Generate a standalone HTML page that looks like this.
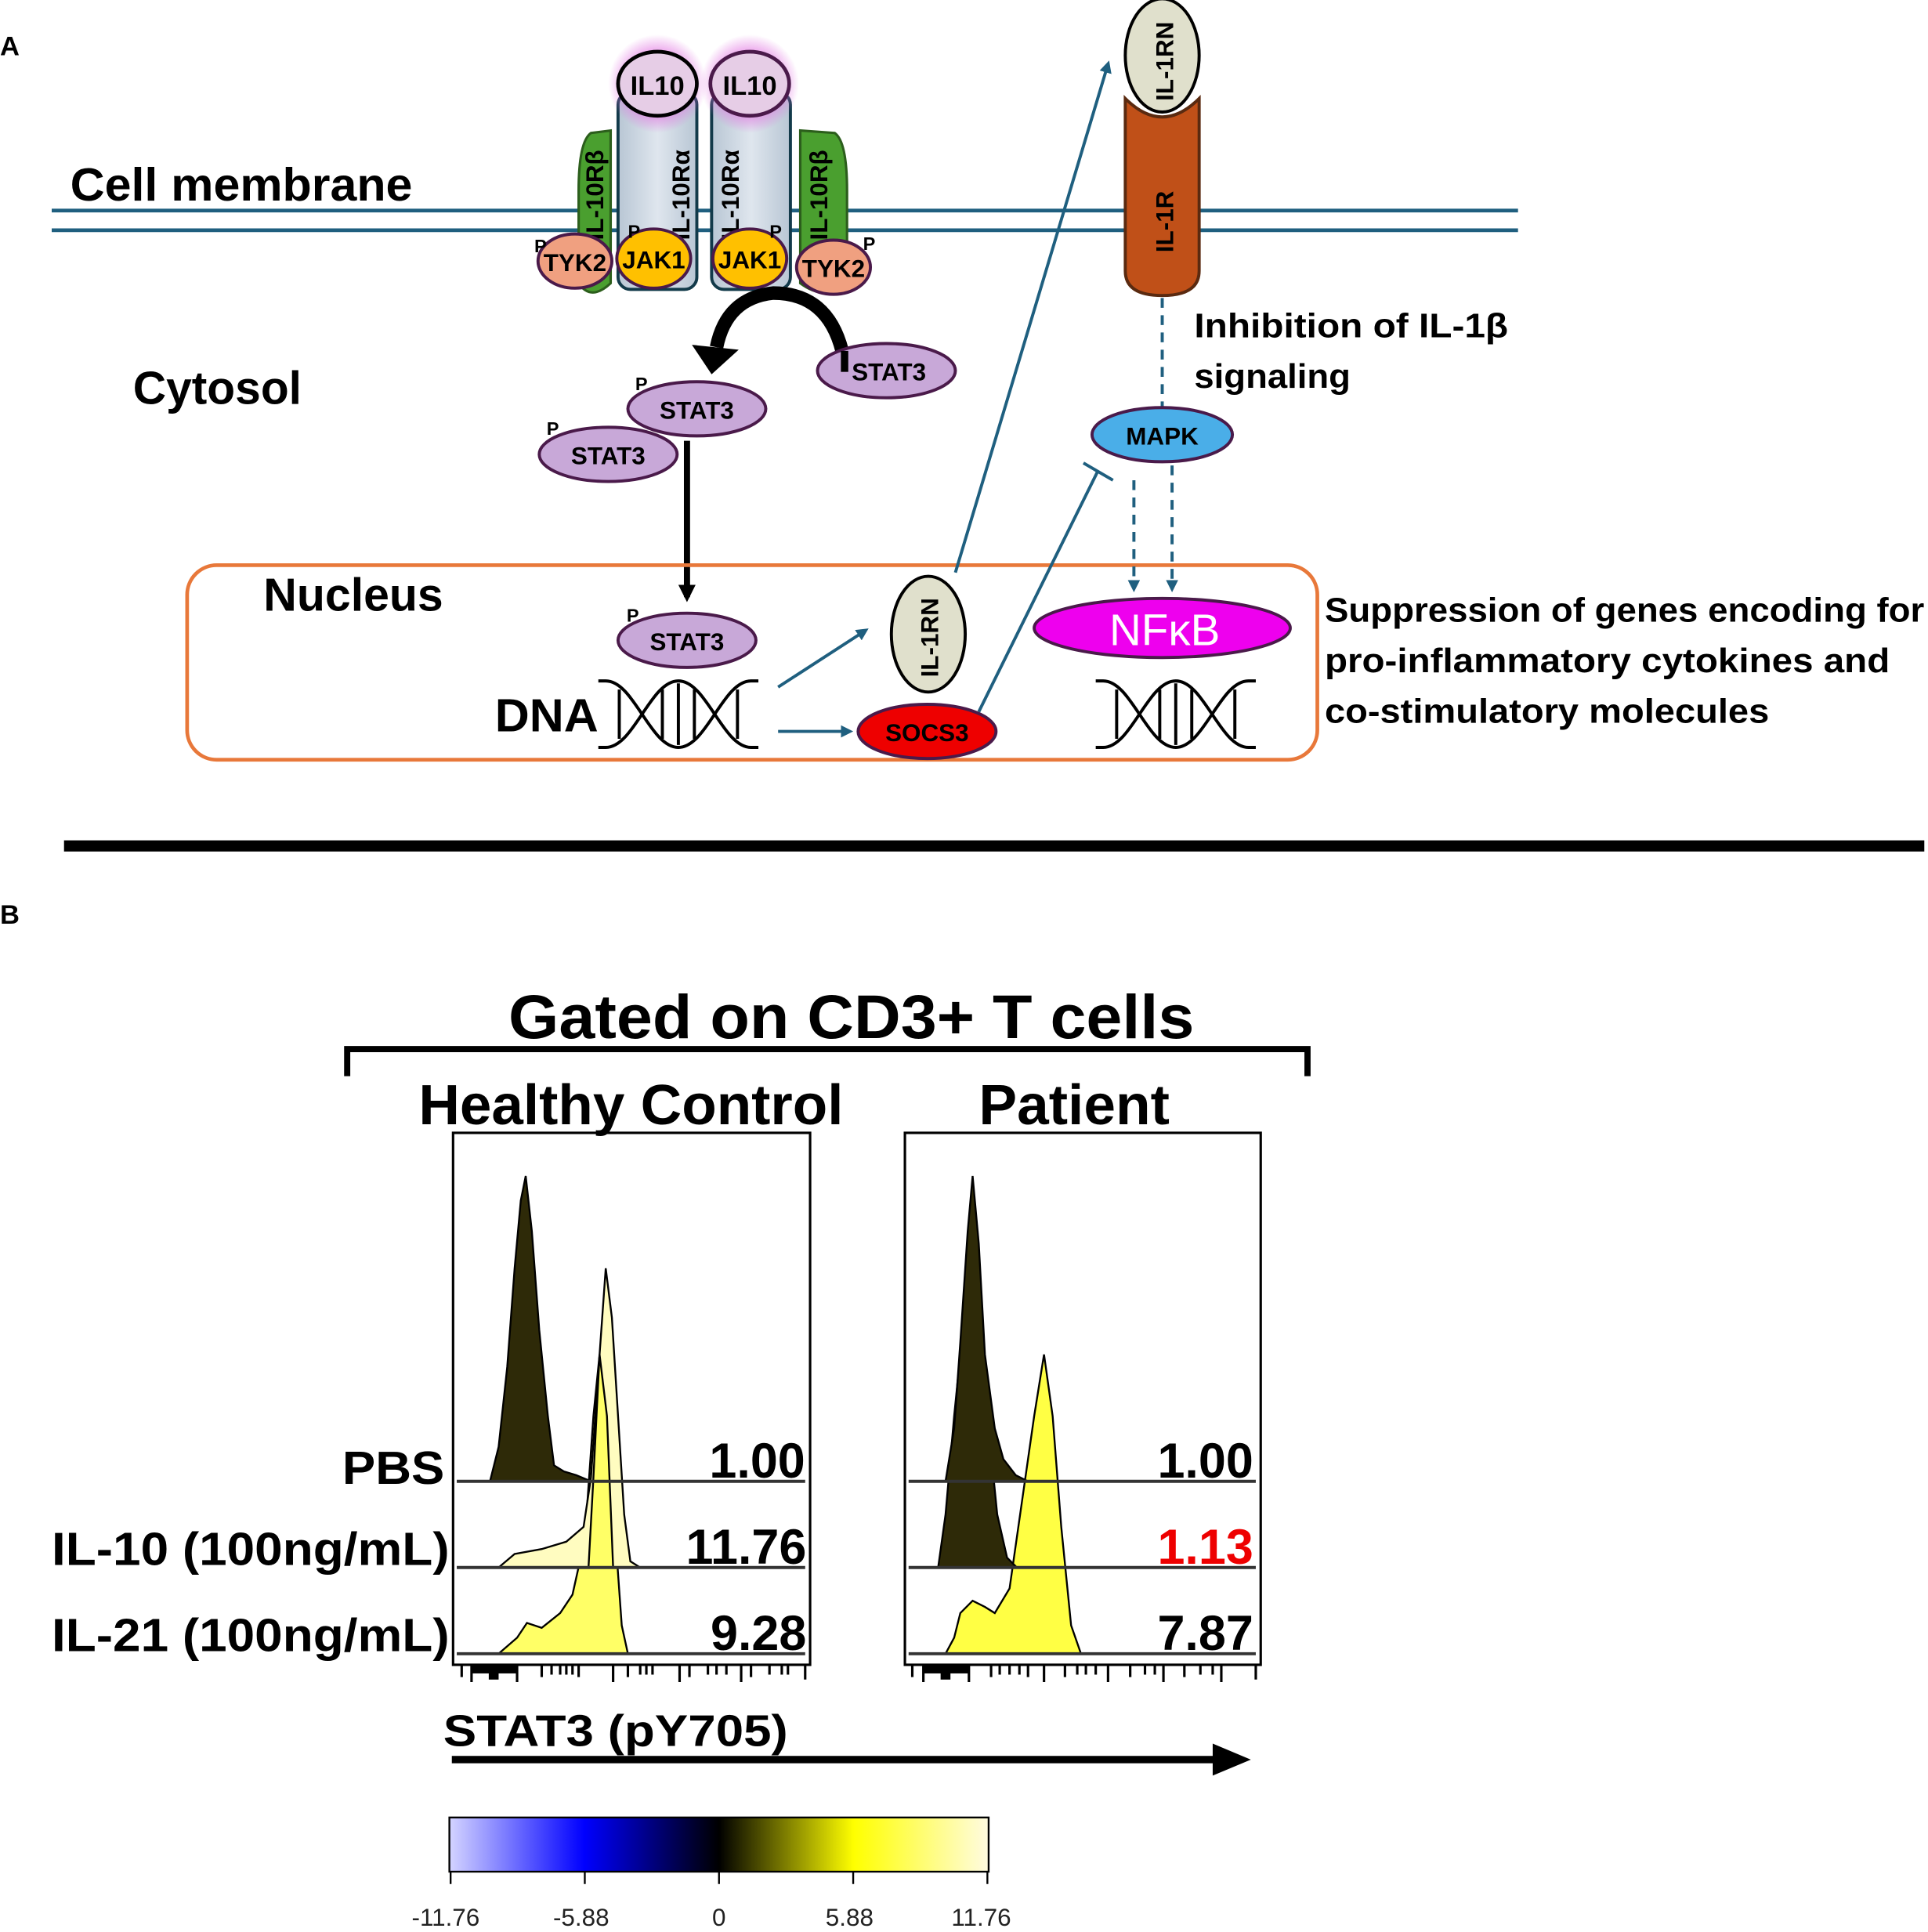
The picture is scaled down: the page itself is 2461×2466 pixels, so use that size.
<!DOCTYPE html>
<html><head><meta charset="utf-8"><style>
html,body{margin:0;padding:0;background:#fff;}
svg{display:block;}
text{font-family:"Liberation Sans",sans-serif;}
.b{font-weight:bold;}
</style></head><body>
<svg width="2461" height="2466" viewBox="0 0 1566 1569" preserveAspectRatio="none" xmlns="http://www.w3.org/2000/svg">
<defs>
<linearGradient id="cb" x1="0" x2="1" y1="0" y2="0">
<stop offset="0" stop-color="#d4d4ff"/><stop offset="0.25" stop-color="#0000ff"/><stop offset="0.5" stop-color="#000"/><stop offset="0.75" stop-color="#ffff00"/><stop offset="1" stop-color="#fffbe0"/>
</linearGradient>
<linearGradient id="rc" x1="0" x2="1"><stop offset="0" stop-color="#b8c6d4"/><stop offset="0.5" stop-color="#dfe6ee"/><stop offset="1" stop-color="#b8c6d4"/></linearGradient>
<radialGradient id="glow"><stop offset="0.6" stop-color="#e070e0" stop-opacity="0.7"/><stop offset="1" stop-color="#e070e0" stop-opacity="0"/></radialGradient>
<marker id="ab" markerWidth="10" markerHeight="10" refX="7" refY="5" orient="auto" markerUnits="userSpaceOnUse"><path d="M0,0 L10,5 L0,10 Z" fill="#1f5f7f"/></marker>
<marker id="ak" markerWidth="14" markerHeight="14" refX="10" refY="7" orient="auto" markerUnits="userSpaceOnUse"><path d="M0,0 L14,7 L0,14 Z" fill="#000"/></marker>
</defs>
<rect width="1566" height="1569" fill="#fff"/>
<text x="0" y="45" class="b" font-size="22">A</text>
<text x="0" y="750" class="b" font-size="22">B</text>

<line x1="42" y1="171" x2="1233" y2="171" stroke="#1f5f7f" stroke-width="3"/>
<line x1="42" y1="187" x2="1233" y2="187" stroke="#1f5f7f" stroke-width="3"/>
<text x="57" y="163" class="b" font-size="38" textLength="278" lengthAdjust="spacingAndGlyphs">Cell membrane</text>
<text x="108" y="328" class="b" font-size="38" textLength="137" lengthAdjust="spacingAndGlyphs">Cytosol</text>

<path d="M470,155 Q470,115 480,108 L496,106 L496,230 Q480,245 470,230 Z" fill="#4a9f2f" stroke="#2c5e1c" stroke-width="2"/>
<path d="M688,155 Q688,115 678,108 L650,106 L650,230 Q670,245 688,230 Z" fill="#4a9f2f" stroke="#2c5e1c" stroke-width="2"/>
<rect x="502" y="75" width="64" height="160" rx="10" fill="url(#rc)" stroke="#123a4a" stroke-width="2.5"/>
<rect x="578" y="75" width="64" height="160" rx="10" fill="url(#rc)" stroke="#123a4a" stroke-width="2.5"/>
<circle cx="534" cy="68" r="40" fill="url(#glow)"/><circle cx="609" cy="68" r="40" fill="url(#glow)"/>
<ellipse cx="534" cy="68" rx="32" ry="26" fill="#e6cde6" stroke="#000" stroke-width="3"/>
<ellipse cx="609" cy="68" rx="32" ry="26" fill="#e6cde6" stroke="#4a1a4a" stroke-width="3"/>
<text x="534" y="77" text-anchor="middle" class="b" font-size="22">IL10</text>
<text x="609" y="77" text-anchor="middle" class="b" font-size="22">IL10</text>
<g class="b" font-size="20">
<text transform="translate(490,195) rotate(-90)">IL-10Rβ</text>
<text transform="translate(560,195) rotate(-90)">IL-10Rα</text>
<text transform="translate(600,195) rotate(-90)">IL-10Rα</text>
<text transform="translate(672,195) rotate(-90)">IL-10Rβ</text>
</g>
<ellipse cx="467" cy="212" rx="30" ry="22" fill="#f0a080" stroke="#4a1a4a" stroke-width="2.5"/>
<ellipse cx="531" cy="210" rx="30" ry="24" fill="#ffc000" stroke="#4a1a4a" stroke-width="2.5"/>
<ellipse cx="609" cy="210" rx="30" ry="24" fill="#ffc000" stroke="#4a1a4a" stroke-width="2.5"/>
<ellipse cx="677" cy="217" rx="30" ry="22" fill="#f0a080" stroke="#4a1a4a" stroke-width="2.5"/>
<g class="b" font-size="20" text-anchor="middle">
<text x="467" y="220">TYK2</text><text x="531" y="218">JAK1</text><text x="609" y="218">JAK1</text><text x="677" y="225">TYK2</text>
</g>
<g class="b" font-size="15"><text x="434" y="205">P</text><text x="510" y="193">P</text><text x="625" y="193">P</text><text x="701" y="203">P</text></g>

<!-- curved arrow -->
<path d="M684,300 L684,285 Q672,238 628,238 Q590,242 582,282" fill="none" stroke="#000" stroke-width="11"/>
<path d="M562,280 L600,284 L578,304 Z" fill="#000"/>
<ellipse cx="720" cy="301" rx="56" ry="22" fill="#c8a8d8" stroke="#4a1a4a" stroke-width="2.5"/>
<rect x="683" y="285" width="6" height="17" fill="#000"/>
<text x="722" y="309" text-anchor="middle" class="b" font-size="20">STAT3</text>
<ellipse cx="566" cy="332" rx="56" ry="22" fill="#c8a8d8" stroke="#4a1a4a" stroke-width="2.5"/>
<text x="566" y="340" text-anchor="middle" class="b" font-size="20">STAT3</text>
<ellipse cx="494" cy="369" rx="56" ry="22" fill="#c8a8d8" stroke="#4a1a4a" stroke-width="2.5"/>
<text x="494" y="377" text-anchor="middle" class="b" font-size="20">STAT3</text>
<g class="b" font-size="15"><text x="516" y="317">P</text><text x="444" y="353">P</text><text x="509" y="505">P</text></g>
<line x1="558" y1="358" x2="558" y2="485" stroke="#000" stroke-width="5" marker-end="url(#ak)"/>

<rect x="152" y="459" width="918" height="158" rx="24" fill="none" stroke="#e8783a" stroke-width="3"/>
<text x="214" y="496" class="b" font-size="38" textLength="146" lengthAdjust="spacingAndGlyphs">Nucleus</text>
<ellipse cx="558" cy="520" rx="56" ry="22" fill="#c8a8d8" stroke="#4a1a4a" stroke-width="2.5"/>
<text x="558" y="528" text-anchor="middle" class="b" font-size="20">STAT3</text>
<text x="402" y="594" class="b" font-size="38" textLength="84" lengthAdjust="spacingAndGlyphs">DNA</text>
<g fill="none" stroke="#000" stroke-width="2.5">
<g id="dna">
<path d="M486,553 L492,553 C515,553 528,607 551,607 C574,607 587,553 610,553 L616,553"/>
<path d="M486,607 L492,607 C515,607 528,553 551,553 C574,553 587,607 610,607 L616,607"/>
<path d="M503,560 V600 M538,560 V600 M551,555 V605 M564,560 V600 M599,560 V600"/>
</g>
<use href="#dna" x="404" y="0"/>
</g>
<line x1="632" y1="558" x2="703" y2="512" stroke="#1f5f7f" stroke-width="2.5" marker-end="url(#ab)"/>
<line x1="632" y1="594" x2="690" y2="594" stroke="#1f5f7f" stroke-width="2.5" marker-end="url(#ab)"/>
<ellipse cx="754" cy="515" rx="30" ry="47" fill="#e0e0cc" stroke="#000" stroke-width="2.5"/>
<text transform="translate(762,550) rotate(-90)" class="b" font-size="20">IL-1RN</text>
<ellipse cx="753" cy="594" rx="56" ry="22" fill="#ee0000" stroke="#4a1a4a" stroke-width="2.5"/>
<text x="753" y="602" text-anchor="middle" class="b" font-size="20">SOCS3</text>
<line x1="776" y1="465" x2="900" y2="52" stroke="#1f5f7f" stroke-width="2.5" marker-end="url(#ab)"/>
<line x1="795" y1="578" x2="892" y2="382" stroke="#1f5f7f" stroke-width="2.5"/>
<line x1="880" y1="376" x2="904" y2="390" stroke="#1f5f7f" stroke-width="2.5"/>
<ellipse cx="944" cy="510" rx="104" ry="24" fill="#ee00ee" stroke="#4a1a4a" stroke-width="2.5"/>
<text x="946" y="524" text-anchor="middle" font-size="36" fill="#fff">NFκB</text>

<path d="M914,80 L914,220 Q914,240 944,240 Q974,240 974,220 L974,80 Q944,110 914,80 Z" fill="#c05018" stroke="#5a2a10" stroke-width="2.5"/>
<text transform="translate(953,205) rotate(-90)" class="b" font-size="20">IL-1R</text>
<ellipse cx="944" cy="45" rx="30" ry="46" fill="#e0e0cc" stroke="#000" stroke-width="2.5"/>
<text transform="translate(953,82) rotate(-90)" class="b" font-size="20">IL-1RN</text>
<line x1="944" y1="242" x2="944" y2="330" stroke="#1f5f7f" stroke-width="2.5" stroke-dasharray="8,6"/>
<ellipse cx="944" cy="353" rx="57" ry="22" fill="#4aaee8" stroke="#4a1a4a" stroke-width="2.5"/>
<text x="944" y="361" text-anchor="middle" class="b" font-size="20">MAPK</text>
<line x1="921" y1="390" x2="921" y2="478" stroke="#1f5f7f" stroke-width="2.5" stroke-dasharray="8,6" marker-end="url(#ab)"/>
<line x1="952" y1="378" x2="952" y2="478" stroke="#1f5f7f" stroke-width="2.5" stroke-dasharray="8,6" marker-end="url(#ab)"/>
<text x="970" y="274" class="b" font-size="28" textLength="255" lengthAdjust="spacingAndGlyphs">Inhibition of IL-1β</text>
<text x="970" y="315" class="b" font-size="28" textLength="127" lengthAdjust="spacingAndGlyphs">signaling</text>
<text x="1076" y="505" class="b" font-size="28" textLength="487" lengthAdjust="spacingAndGlyphs">Suppression of genes encoding for</text>
<text x="1076" y="546" class="b" font-size="28" textLength="459" lengthAdjust="spacingAndGlyphs">pro-inflammatory cytokines and</text>
<text x="1076" y="587" class="b" font-size="28" textLength="361" lengthAdjust="spacingAndGlyphs">co-stimulatory molecules</text>

<line x1="52" y1="687" x2="1563" y2="687" stroke="#000" stroke-width="9"/>

<text x="413" y="843" class="b" font-size="50" textLength="557" lengthAdjust="spacingAndGlyphs">Gated on CD3+ T cells</text>
<path d="M282,874 L282,852 L1062,852 L1062,874" fill="none" stroke="#000" stroke-width="5"/>
<text x="340" y="913" class="b" font-size="46" textLength="345" lengthAdjust="spacingAndGlyphs">Healthy Control</text>
<text x="795" y="913" class="b" font-size="46" textLength="155" lengthAdjust="spacingAndGlyphs">Patient</text>
<rect x="368" y="920" width="290" height="432" fill="none" stroke="#000" stroke-width="2"/>
<rect x="735" y="920" width="289" height="432" fill="none" stroke="#000" stroke-width="2"/>
<g class="b" font-size="38">
<text x="278" y="1205" textLength="83" lengthAdjust="spacingAndGlyphs">PBS</text>
<text x="42" y="1271" textLength="323" lengthAdjust="spacingAndGlyphs">IL-10 (100ng/mL)</text>
<text x="42" y="1341" textLength="323" lengthAdjust="spacingAndGlyphs">IL-21 (100ng/mL)</text>
</g>
<g stroke="#000" stroke-width="1.5">
<path d="M405,1343 L420,1330 L428,1318 L440,1322 L455,1310 L465,1295 L475,1250 L482,1150 L487,1100 L493,1150 L500,1250 L505,1320 L510,1343 Z" fill="#ffff66"/>
<path d="M405,1273 L418,1262 L440,1258 L460,1252 L474,1240 L480,1200 L487,1100 L492,1030 L497,1070 L502,1150 L507,1230 L512,1268 L520,1273 Z" fill="#fffcc0"/>
<path d="M478,1273 L482,1200 L487,1100 L493,1150 L498,1273 Z" fill="#ffff66"/>
<path d="M398,1203 L405,1175 L412,1110 L418,1030 L423,975 L427,955 L432,1000 L438,1080 L445,1150 L450,1190 L458,1195 L468,1198 L480,1203 Z" fill="#2e2a08"/>
<path d="M768,1343 L775,1330 L780,1310 L790,1300 L800,1305 L808,1310 L820,1290 L830,1220 L840,1150 L848,1100 L855,1150 L862,1240 L870,1320 L878,1343 Z" fill="#ffff44"/>
<path d="M762,1273 L768,1230 L775,1150 L782,1080 L790,1000 L796,1060 L802,1150 L810,1230 L818,1265 L826,1273 Z" fill="#2e2a08"/>
<path d="M768,1203 L775,1160 L780,1090 L786,1000 L790,955 L795,1010 L800,1100 L808,1160 L815,1185 L825,1198 L835,1203 Z" fill="#2e2a08"/>
</g>
<g stroke="#333" stroke-width="2.5">
<line x1="371" y1="1203" x2="654" y2="1203"/><line x1="371" y1="1273" x2="654" y2="1273"/><line x1="371" y1="1343" x2="654" y2="1343"/>
<line x1="738" y1="1203" x2="1020" y2="1203"/><line x1="738" y1="1273" x2="1020" y2="1273"/><line x1="738" y1="1343" x2="1020" y2="1343"/>
</g>
<g class="b" font-size="40" text-anchor="end">
<text x="654" y="1200">1.00</text><text x="655" y="1270">11.76</text><text x="655" y="1340">9.28</text>
<text x="1018" y="1200">1.00</text><text x="1018" y="1270" fill="#ee0000">1.13</text><text x="1018" y="1340">7.87</text>
</g>
<g stroke="#000" stroke-width="2">
<path d="M375,1352 v10 M383,1352 v14 M420,1352 v14 M440,1352 v10 M448,1352 v8 M455,1352 v8 M460,1352 v8 M465,1352 v8 M470,1352 v10 M498,1352 v14 M510,1352 v10 M520,1352 v8 M525,1352 v8 M530,1352 v8 M552,1352 v14 M560,1352 v10 M575,1352 v8 M582,1352 v8 M590,1352 v8 M602,1352 v14 M610,1352 v10 M625,1352 v8 M635,1352 v8 M640,1352 v8 M654,1352 v12"/>
<path d="M741,1352 v10 M750,1352 v14 M787,1352 v14 M805,1352 v10 M812,1352 v8 M820,1352 v8 M828,1352 v8 M835,1352 v10 M848,1352 v14 M865,1352 v10 M875,1352 v8 M882,1352 v8 M890,1352 v8 M900,1352 v14 M918,1352 v10 M930,1352 v8 M938,1352 v8 M945,1352 v14 M962,1352 v10 M975,1352 v8 M985,1352 v8 M992,1352 v14 M1020,1352 v12"/>
</g>
<rect x="383" y="1352" width="37" height="7" fill="#000"/><rect x="397" y="1352" width="8" height="12" fill="#000"/>
<rect x="750" y="1352" width="37" height="7" fill="#000"/><rect x="764" y="1352" width="8" height="12" fill="#000"/>
<text x="360" y="1418" class="b" font-size="36" textLength="280" lengthAdjust="spacingAndGlyphs">STAT3 (pY705)</text>
<line x1="367" y1="1429" x2="990" y2="1429" stroke="#000" stroke-width="6"/>
<path d="M985,1416 L1016,1429 L985,1442 Z" fill="#000"/>
<rect x="365" y="1476" width="438" height="44" fill="url(#cb)" stroke="#000" stroke-width="1.5"/>
<g stroke="#000" stroke-width="1.5"><path d="M366,1520 v10 M475,1520 v10 M584,1520 v10 M693,1520 v10 M802,1520 v10"/></g>
<g font-size="20" text-anchor="middle" fill="#222">
<text x="362" y="1564">-11.76</text><text x="472" y="1564">-5.88</text><text x="584" y="1564">0</text><text x="690" y="1564">5.88</text><text x="797" y="1564">11.76</text>
</g>
</svg>
</body></html>
